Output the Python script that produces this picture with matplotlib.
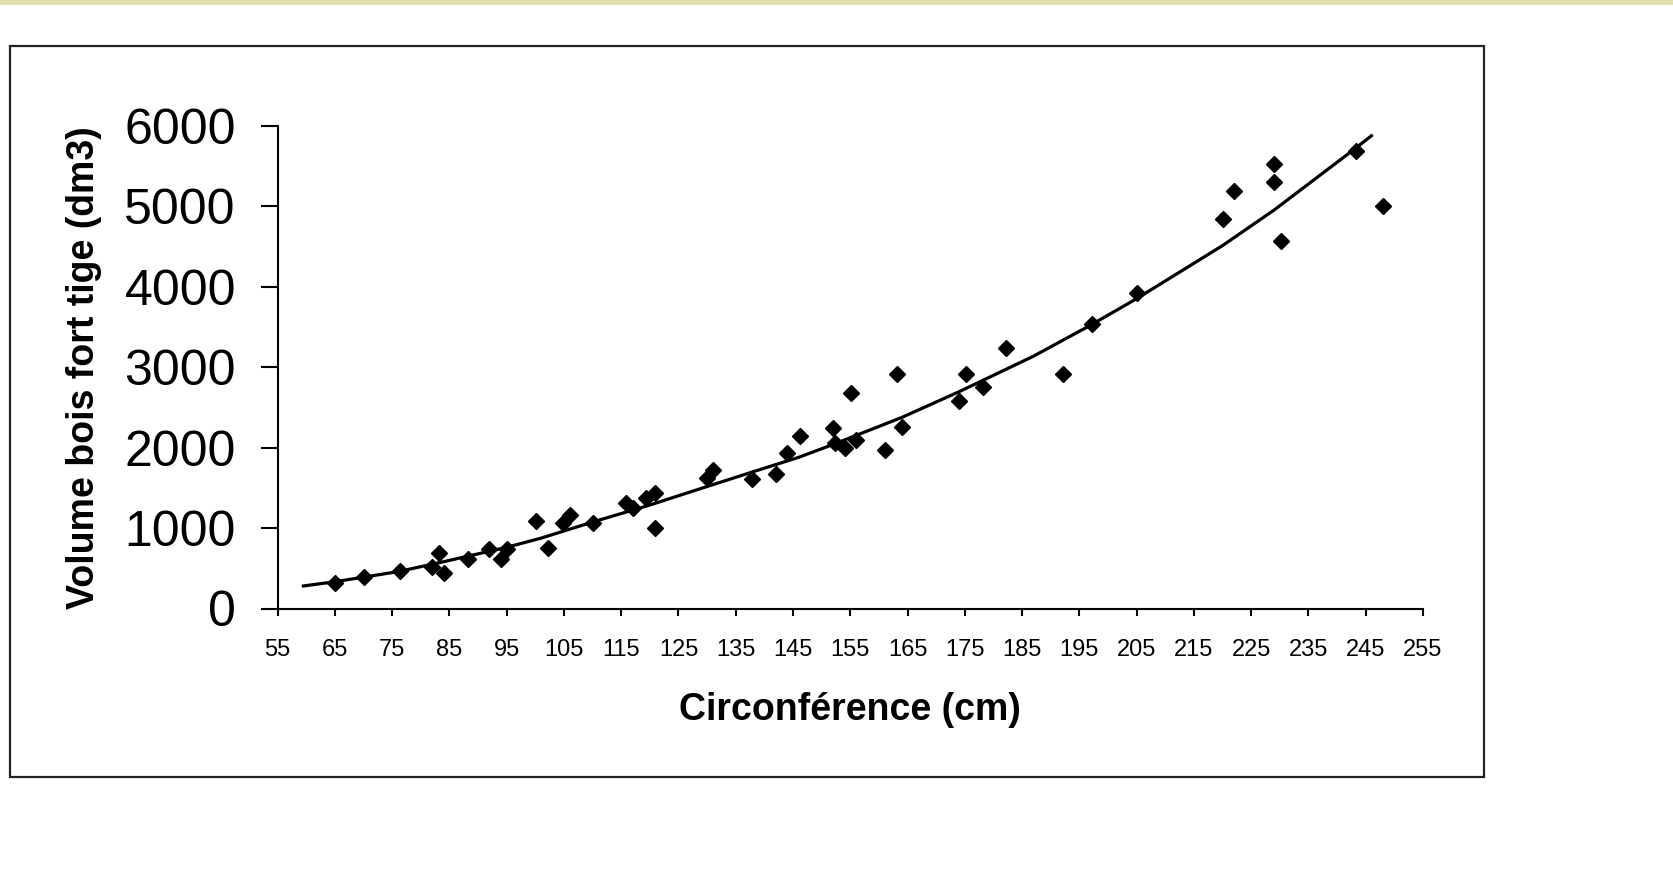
import numpy as np
import matplotlib.pyplot as plt
from matplotlib.patches import Rectangle

plt.rcParams['font.family'] = ['Liberation Sans', 'DejaVu Sans']

# measured trees: circumference (cm) and stem volume (dm3)
circ = [65, 70, 76.3, 82, 83.2, 84.1, 88.3, 91.9, 94, 95.1, 100.2, 102.3,
        104.9, 106.1, 110, 115.8, 117.1, 119.3, 120.9, 120.9, 129.9, 131.1,
        137.9, 142, 143.9, 146.2, 152, 152.3, 154.1, 155.2, 156, 161.1,
        163.1, 164, 173.9, 175.2, 178.1, 182.2, 192.2, 197.2, 205, 220,
        222, 229, 229, 230.2, 243.3, 248.1]
volume = [321, 388, 466, 512, 694, 437, 615, 736, 611, 736, 1092, 756,
          1059, 1163, 1067, 1308, 1246, 1370, 1432, 997, 1619, 1722,
          1610, 1668, 1930, 2145, 2240, 2062, 1992, 2676, 2095, 1971,
          2916, 2261, 2584, 2916, 2758, 3243, 2916, 3534, 3927, 4840,
          5191, 5523, 5307, 4570, 5689, 5009]

# fitted trend line
fit_x = [59.5, 65, 76, 84, 95, 101, 110, 120, 130, 138, 146, 152, 164, 174,
         187, 197, 205, 220, 229, 243, 246]
fit_y = [280, 333, 458, 582, 761, 875, 1075, 1287, 1517, 1700, 1880, 2040,
         2376, 2696, 3138, 3525, 3853, 4513, 4955, 5711, 5879]

xticks = np.arange(55, 256, 10)
yticks = np.arange(0, 6001, 1000)

W, H = 1674, 886
fig = plt.figure(figsize=(W / 100, H / 100), dpi=100)

# yellow strip on top and the outer frame
fig.patches.append(Rectangle((0, 1 - 5 / H), 1, 5 / H, transform=fig.transFigure,
                             facecolor='#e2dfb1', edgecolor='none'))
fig.patches.append(Rectangle((10 / W, 1 - 777 / H), 1474 / W, 731 / H,
                             transform=fig.transFigure, facecolor='none',
                             edgecolor='#222222', linewidth=1.6))

ax = fig.add_axes([277.6 / W, 1 - 608.5 / H, 1145.4 / W, 482.5 / H])
ax.plot(fit_x, fit_y, color='black', linewidth=2.3, zorder=2)
ax.plot(circ, volume, linestyle='none', marker='D', markersize=8.5,
        color='black', zorder=3, clip_on=False)

ax.set_xlim(55, 255)
ax.set_ylim(0, 6000)
ax.set_xticks(xticks)
ax.set_yticks(yticks)
ax.spines['top'].set_visible(False)
ax.spines['right'].set_visible(False)
for s in ('left', 'bottom'):
    ax.spines[s].set_linewidth(1.5)
ax.tick_params(axis='y', direction='out', length=12, width=1.5, labelsize=36, pad=18)
ax.tick_params(axis='x', direction='out', length=5, width=1.5, labelsize=17, pad=17)

ax.set_xlabel('Circonférence (cm)', fontsize=27, fontweight='bold', labelpad=22)
ax.set_ylabel('Volume bois fort tige (dm3)', fontsize=27, fontweight='bold', labelpad=16)

fig.savefig('out.png', dpi=100)
